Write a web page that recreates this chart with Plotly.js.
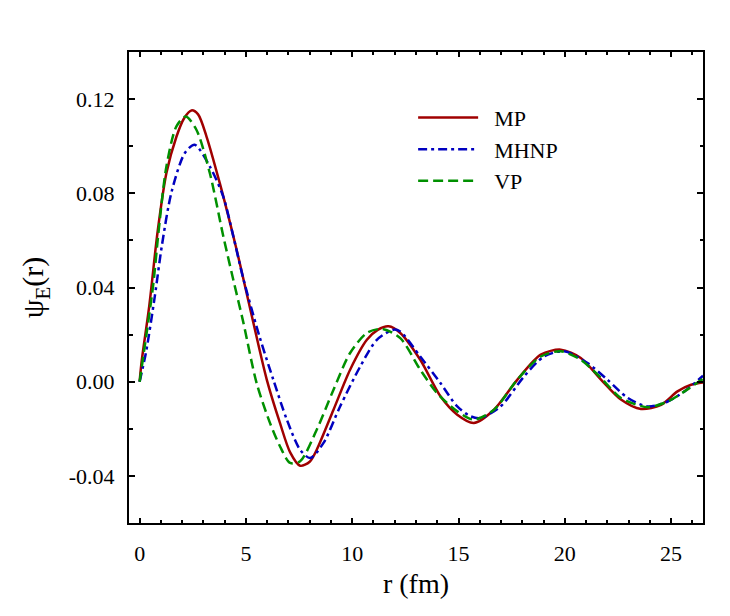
<!DOCTYPE html>
<html>
<head>
<meta charset="utf-8">
<script src="https://cdn.plot.ly/plotly-3.0.1.min.js"></script>
<style>
  html, body { margin: 0; padding: 0; background: #fff; }
  #chart { width: 730px; height: 616px; }
</style>
</head>
<body>
<div id="chart"></div>
<script>
// ---- data ---------------------------------------------------------------------
const R_MP = [0, 0.1, 0.45, 0.85, 1.26, 1.73, 2.1, 2.44, 2.75, 3.15, 3.77, 4.32, 4.72,
  5.35, 5.98, 6.6, 7.08, 7.55, 8.0, 8.33, 9.12, 9.9, 10.69, 11.2, 11.71, 12.26, 13.2,
  14.15, 14.94, 15.72, 16.67, 17.77, 18.87, 19.81, 20.75, 21.7, 22.64, 23.58, 24.53,
  25.3, 25.94, 26.5];
const PSI_MP = [0, 0.009, 0.032, 0.064, 0.0886, 0.104, 0.112, 0.1152, 0.1135, 0.104,
  0.0843, 0.065, 0.05, 0.025, 0.0009, -0.0175, -0.030, -0.0357, -0.034, -0.0289,
  -0.0119, 0.0051, 0.0178, 0.022, 0.0235, 0.0207, 0.0093, -0.0062, -0.014, -0.0175,
  -0.0119, 0.0009, 0.0115, 0.0136, 0.0101, 0.0009, -0.0076, -0.0116, -0.0098, -0.0041,
  -0.0013, -0.0003];

const R_MHNP = [0, 0.31, 0.71, 1.05, 1.5, 2.12, 2.59, 3.3, 3.93, 4.4, 4.87, 5.66, 6.29,
  6.92, 7.55, 8.02, 8.65, 9.43, 10.38, 11.16, 11.95, 12.26, 13.2, 14.15, 14.94, 15.57,
  16.04, 16.98, 18.08, 19.02, 19.97, 21.07, 22.01, 22.96, 23.9, 24.84, 25.63, 26.5];
const PSI_MHNP = [0, 0.013, 0.036, 0.058, 0.0805, 0.097, 0.1006, 0.0914, 0.0787, 0.062,
  0.044, 0.0185, 0.0008, -0.016, -0.0289, -0.0324, -0.026, -0.0105, 0.0065, 0.0178,
  0.0221, 0.0213, 0.0107, -0.0006, -0.0105, -0.0147, -0.0154, -0.0105, 0.0022, 0.0107,
  0.0129, 0.0079, 0.0008, -0.0069, -0.0105, -0.0084, -0.0041, 0.0025];

const R_VP = [0, 0.24, 0.63, 0.9, 1.26, 1.73, 2.17, 2.67, 3.3, 3.93, 4.4, 4.87, 5.5,
  6.13, 6.6, 7.08, 7.55, 8.33, 9.12, 9.9, 10.69, 11.4, 12.26, 13.2, 13.99, 14.94, 15.72,
  16.67, 17.77, 18.87, 19.81, 20.75, 21.7, 22.64, 23.9, 24.84, 25.63, 26.5];
const PSI_VP = [0, 0.015, 0.0405, 0.0645, 0.0914, 0.1084, 0.1126, 0.107, 0.0886, 0.062,
  0.0435, 0.0255, -0.0005, -0.0175, -0.0274, -0.0345, -0.0338, -0.0204, -0.0034, 0.0122,
  0.0207, 0.0224, 0.0185, 0.0051, -0.0048, -0.0126, -0.0161, -0.0119, 0.0009, 0.0107,
  0.0129, 0.0093, 0.0016, -0.0069, -0.0108, -0.0084, -0.0041, 0.0012];

const X_TICKS = [0, 5, 10, 15, 20, 25];
const Y_TICKS = [-0.04, 0.00, 0.04, 0.08, 0.12];
const Y_TICK_TEXT = ['-0.04', '0.00', '0.04', '0.08', '0.12'];

const FONT = 'Liberation Serif, Times New Roman, serif';
const PAD = '\u00a0\u00a0';   // pushes legend text right of the sample line

// ---- traces -----------------------------------------------------------------------
const traces = [
  { x: R_MP, y: PSI_MP, name: PAD + 'MP', type: 'scatter', mode: 'lines',
    line: { color: '#a00000', width: 2.5, shape: 'spline', smoothing: 0.8 } },
  { x: R_MHNP, y: PSI_MHNP, name: PAD + 'MHNP', type: 'scatter', mode: 'lines',
    line: { color: '#0000c0', width: 2.5, dash: '9px,4px,3px,4px',
            shape: 'spline', smoothing: 0.8 } },
  { x: R_VP, y: PSI_VP, name: PAD + 'VP', type: 'scatter', mode: 'lines',
    line: { color: '#009000', width: 2.5, dash: '10px,5px',
            shape: 'spline', smoothing: 0.8 } },
];

const axisBase = {
  showline: true, linecolor: '#000', linewidth: 2, mirror: 'ticks',
  ticks: 'inside', tickcolor: '#000', tickwidth: 2,
  showgrid: false, zeroline: false,
  tickfont: { family: FONT, size: 22, color: '#000' },
};

const layout = {
  width: 730, height: 616,
  paper_bgcolor: '#fff', plot_bgcolor: '#fff',
  margin: { l: 129, r: 27, t: 52, b: 93 },
  showlegend: true,
  legend: {
    x: 0.495, y: 0.905, xanchor: 'left', yanchor: 'top',
    bgcolor: 'rgba(0,0,0,0)', borderwidth: 0,
    font: { family: FONT, size: 22, color: '#000' },
    itemwidth: 60,
  },
  xaxis: {
    ...axisBase,
    range: [-0.5, 26.5],
    tickmode: 'array', tickvals: X_TICKS, ticklen: 5,
    ticklabelstandoff: 10,
    minor: { ticks: 'inside', ticklen: 3, tickwidth: 2, tickcolor: '#000',
             tickmode: 'linear', tick0: 0, dtick: 1 },
    title: { text: 'r (fm)', font: { family: FONT, size: 28, color: '#000' }, standoff: 8 },
  },
  yaxis: {
    ...axisBase,
    range: [-0.06, 0.14],
    tickmode: 'array', tickvals: Y_TICKS, ticktext: Y_TICK_TEXT, ticklen: 6,
    ticklabelstandoff: 8,
    minor: { ticks: 'inside', ticklen: 3.5, tickwidth: 2, tickcolor: '#000',
             tickmode: 'linear', tick0: 0, dtick: 0.02 },
    title: { text: 'ψ<sub>E</sub>(r)', font: { family: FONT, size: 30, color: '#000' }, standoff: 16 },
  },
};

Plotly.newPlot('chart', traces, layout, { displayModeBar: false, staticPlot: true });
</script>
</body>
</html>
